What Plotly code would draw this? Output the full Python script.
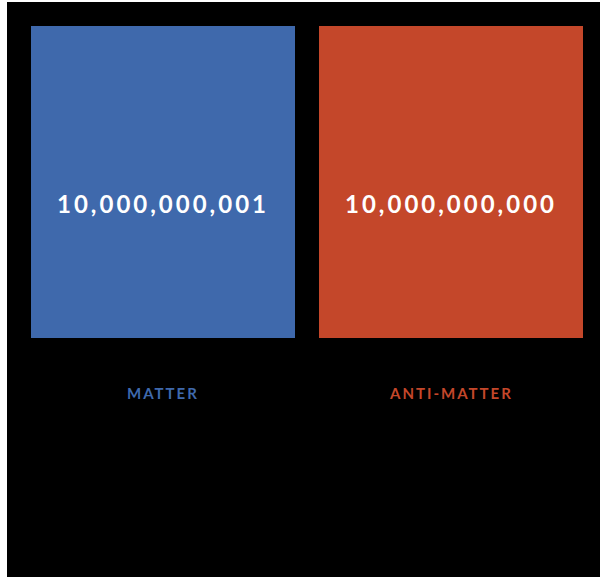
import plotly.graph_objects as go

categories = ["MATTER", "ANTI-MATTER"]
counts = [10000000001, 10000000000]
value_labels = ["10,000,000,001", "10,000,000,000"]
colors = ["#3F69AC", "#C4472A"]

fig = go.Figure()
fig.add_trace(go.Bar(
    x=categories,
    y=counts,
    marker=dict(color=colors, line=dict(width=0)),
    hoverinfo="skip",
))

for cat, val, lab in zip(categories, counts, value_labels):
    fig.add_annotation(
        x=cat, xref="x", y=val / 2, yref="y", yshift=-21,
        text='<span style="letter-spacing:3px">' + lab + '</span>',
        showarrow=False,
        font=dict(family="Lato", size=24, color="white", weight=700),
        yanchor="middle",
    )

for cat, col in zip(categories, colors):
    fig.add_annotation(
        x=cat, xref="x", y=-0.176, yref="paper",
        text='<span style="letter-spacing:2px">' + cat + '</span>',
        showarrow=False,
        font=dict(family="Lato", size=15, color=col, weight=700),
        yanchor="middle",
    )

fig.update_layout(
    width=593, height=575,
    paper_bgcolor="black",
    plot_bgcolor="black",
    margin=dict(l=12, r=5, t=24, b=239),
    bargap=24/288,
    showlegend=False,
    xaxis=dict(showticklabels=False, showgrid=False, zeroline=False, showline=False, range=[-0.5, 1.5]),
    yaxis=dict(visible=False, range=[0, 10000000001], showgrid=False, zeroline=False),
)

fig.write_html("out.html", post_script="document.body.style.margin='2px 0 0 7px';")
